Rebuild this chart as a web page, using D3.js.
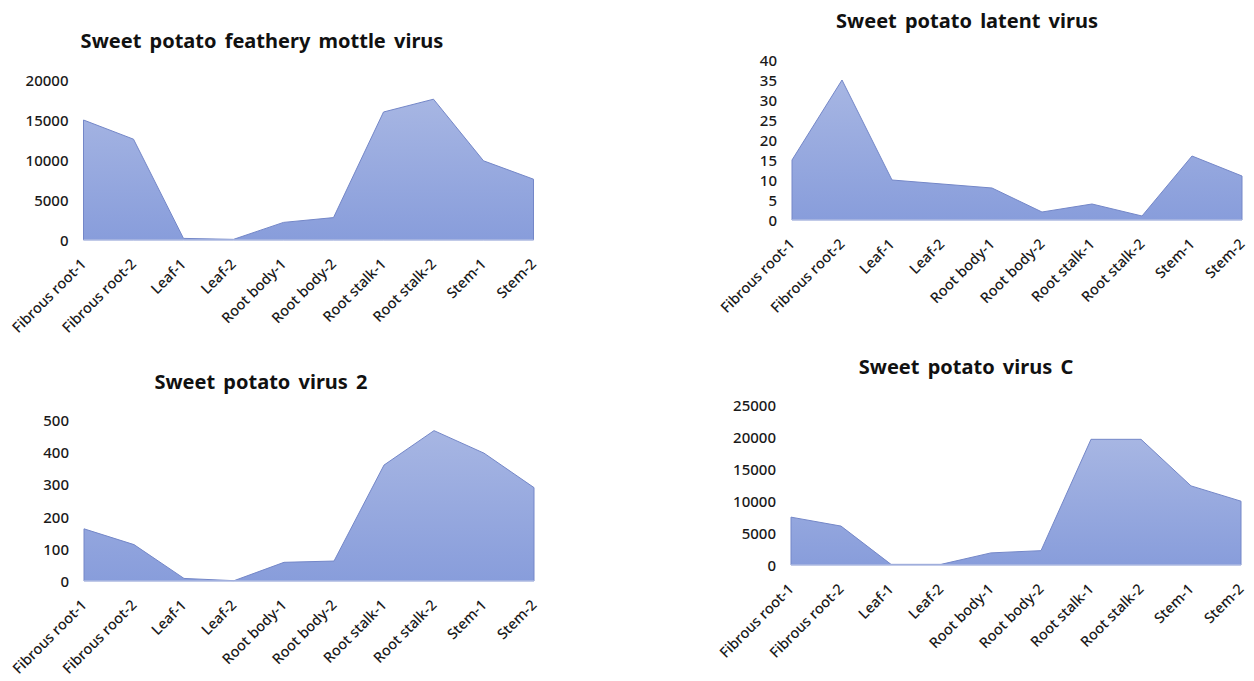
<!DOCTYPE html>
<html>
<head>
<meta charset="utf-8">
<script src="https://cdn.jsdelivr.net/npm/d3@7"></script>
<style>
  html, body { margin: 0; padding: 0; background: #ffffff; }
  svg { display: block; font-family: "Noto Sans", "Open Sans", sans-serif; }
  .tick text { fill: #1a1a1a; font-size: 15px; font-weight: 500; font-family: "Noto Sans", "Open Sans", sans-serif; }
  .xlab .tick text { font-size: 14.5px; }
  .title { font-size: 20px; font-weight: 700; fill: #111; word-spacing: 3px; }
</style>
</head>
<body>
<svg id="chart" width="1254" height="681"></svg>
<script>
// Tissue samples shared by every panel
const categories = ["Fibrous root-1", "Fibrous root-2", "Leaf-1", "Leaf-2", "Root body-1",
                    "Root body-2", "Root stalk-1", "Root stalk-2", "Stem-1", "Stem-2"];

// Read counts per tissue for each virus
const spfmvValues = [15000, 12600, 200, 80, 2200, 2800, 16000, 17600, 9900, 7600];
const splvValues  = [15, 35, 10, 9, 8, 2, 4, 1, 16, 11];
const spv2Values  = [162, 113, 8, 1, 58, 62, 360, 467, 397, 290];
const spvcValues  = [7500, 6100, 100, 100, 1900, 2250, 19700, 19700, 12400, 10000];

// Y-axis tick labels for each panel
const spfmvTicks = [0, 5000, 10000, 15000, 20000];
const splvTicks  = [0, 5, 10, 15, 20, 25, 30, 35, 40];
const spv2Ticks  = [0, 100, 200, 300, 400, 500];
const spvcTicks  = [0, 5000, 10000, 15000, 20000, 25000];

const titles = ["Sweet potato feathery mottle virus", "Sweet potato latent virus",
                "Sweet potato virus 2", "Sweet potato virus C"];

// Panel layout: plot box and title position
const panels = [
  { title: titles[0], values: spfmvValues, ticks: spfmvTicks, x0: 83.5, x1: 533.5, yBase: 240, yTop: 80,    titleX: 262, titleY: 48 },
  { title: titles[1], values: splvValues,  ticks: splvTicks,  x0: 792,  x1: 1242,  yBase: 220, yTop: 60,    titleX: 967, titleY: 28 },
  { title: titles[2], values: spv2Values,  ticks: spv2Ticks,  x0: 84,   x1: 534,   yBase: 581, yTop: 420,   titleX: 261, titleY: 389 },
  { title: titles[3], values: spvcValues,  ticks: spvcTicks,  x0: 791,  x1: 1241,  yBase: 565, yTop: 405.5, titleX: 966, titleY: 374 }
];

const svg = d3.select("#chart");

// Vertical gradient used by every area fill
const defs = svg.append("defs");
const grad = defs.append("linearGradient")
  .attr("id", "areaFill").attr("x1", 0).attr("y1", 0).attr("x2", 0).attr("y2", 1);
grad.append("stop").attr("offset", "0%").attr("stop-color", "#a7b6e3");
grad.append("stop").attr("offset", "100%").attr("stop-color", "#889ddb");

panels.forEach(p => {
  const g = svg.append("g");
  const x = d3.scalePoint().domain(categories).range([p.x0, p.x1]);
  const yMax = p.ticks[p.ticks.length - 1];
  const y = d3.scaleLinear().domain([0, yMax]).range([p.yBase, p.yTop]);

  const rows = categories.map((c, i) => ({ c, v: p.values[i] }));

  // Filled area
  const area = d3.area().x(d => x(d.c)).y0(y(0)).y1(d => y(d.v));
  g.append("path").datum(rows)
    .attr("d", area)
    .attr("fill", "url(#areaFill)")
    .attr("stroke", "#7487c8")
    .attr("stroke-width", 1)
    .attr("stroke-linejoin", "round");

  // Baseline
  g.append("line")
    .attr("x1", p.x0).attr("x2", p.x1)
    .attr("y1", y(0)).attr("y2", y(0))
    .attr("stroke", "#c9d2ee").attr("stroke-width", 1);

  // Y axis: labels only
  const yAxis = d3.axisLeft(y).tickValues(p.ticks).tickSize(0).tickPadding(15)
    .tickFormat(d3.format("d"));
  const ya = g.append("g").attr("transform", `translate(${p.x0},0)`).call(yAxis)
    .attr("font-family", null).attr("font-size", null);
  ya.select(".domain").remove();
  ya.selectAll("text").attr("dy", "0.36em");

  // X axis: rotated category labels
  const xAxis = d3.axisBottom(x).tickSize(0).tickPadding(0);
  const xa = g.append("g").attr("class", "xlab")
    .attr("transform", `translate(0,${p.yBase})`).call(xAxis)
    .attr("font-family", null).attr("font-size", null);
  xa.select(".domain").remove();
  xa.selectAll("text")
    .attr("text-anchor", "end")
    .attr("dy", null)
    .attr("y", 0)
    .attr("transform", "translate(3,25) rotate(-45)");

  // Title
  g.append("text").attr("class", "title")
    .attr("x", p.titleX).attr("y", p.titleY)
    .attr("text-anchor", "middle")
    .text(p.title);
});
</script>
</body>
</html>
